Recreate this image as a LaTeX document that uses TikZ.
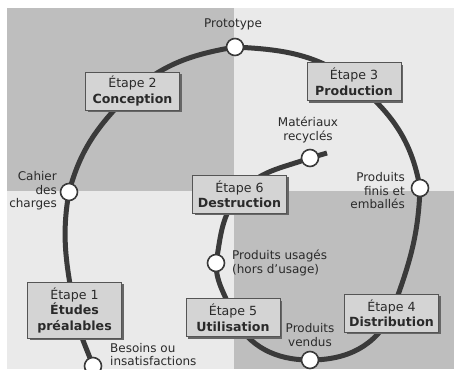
\documentclass[tikz,border=0pt]{standalone}
\usepackage{fontspec}
\setmainfont{DejaVu Sans}
\usetikzlibrary{shadows}
\pgfdeclarelayer{bg}\pgfdeclarelayer{mid}\pgfsetlayers{bg,mid,main}
\definecolor{dk}{HTML}{BEBEBE}
\definecolor{lt}{HTML}{EAEAEA}
\definecolor{boxfill}{HTML}{D4D4D4}
\definecolor{boxline}{HTML}{555555}
\definecolor{linec}{HTML}{3A3A3A}
\definecolor{textc}{HTML}{2A2A2A}
\tikzset{
  stage/.style={draw=boxline, line width=0.8pt, fill=boxfill, minimum width=94pt, minimum height=38pt,
    inner sep=0pt, align=center, text=textc, font=\fontsize{12.6}{15.5}\selectfont,
    drop shadow={shadow xshift=2pt, shadow yshift=-2pt, fill=black!60, opacity=1}},
  ptc/.style={circle, draw=linec, line width=1.6pt, fill=white, minimum size=17pt, inner sep=0pt},
  lbl/.style={font=\fontsize{12}{13.5}\selectfont, text=textc, inner sep=0pt},
  loopline/.style={draw=linec, line width=5pt}
}
\begin{document}
\begin{tikzpicture}[x=1pt,y=1pt]
\useasboundingbox (0,0) rectangle (454,-369);
\clip (0,0) rectangle (454,-369);
\begin{pgfonlayer}{bg}
\fill[white] (0,0) rectangle (454,-369);
\fill[lt] (7,-8) rectangle (454,-369);
\fill[dk] (7,-8) rectangle (234,-190.5);
\fill[dk] (234,-190.5) rectangle (454,-369);
\end{pgfonlayer}

% stages
\node[stage, minimum height=56pt] (e1) at (74.5,-310) {Étape 1\\\textbf{Études}\\\textbf{préalables}};
\node[stage] (e2) at (132.5,-91) {Étape 2\\\textbf{Conception}};
\node[stage] (e3) at (354,-81.5) {Étape 3\\\textbf{Production}};
\node[stage] (e4) at (391.5,-313) {Étape 4\\\textbf{Distribution}};
\node[stage] (e5) at (233,-317.5) {Étape 5\\\textbf{Utilisation}};
\node[stage] (e6) at (239.5,-194) {Étape 6\\\textbf{Destruction}};

% points
\node[ptc] (b) at (93,-366) {};
\node[ptc] (c) at (69,-192) {};
\node[ptc] (p) at (235,-47) {};
\node[ptc] (pf) at (420,-188) {};
\node[ptc] (pv) at (310,-360) {};
\node[ptc] (pu) at (216,-263) {};
\node[ptc] (mr) at (310,-158) {};
\coordinate (stub) at (327,-153);

% labels
\node[lbl] (lp) at (233,-24) {Prototype};
\node[lbl, align=right, anchor=east] (lc) at (57,-191) {Cahier\\des\\charges};
\node[lbl, align=left, anchor=west] (lb) at (110,-354.5) {Besoins ou\\insatisfactions};
\node[lbl, align=center] (lm) at (308,-130) {Matériaux\\recyclés};
\node[lbl, align=right, anchor=east] (lf) at (405,-191) {Produits\\finis et\\emballés};
\node[lbl, align=left, anchor=west] (lu) at (232,-263) {Produits usagés\\(hors d'usage)};
\node[lbl, align=center] (lv) at (310,-335) {Produits\\vendus};

\begin{pgfonlayer}{mid}
\draw[loopline] (b.center) to[out=110,in=-80] (e1.center)
  to[out=100,in=-100] (c.center)
  to[out=75,in=225] (e2.center)
  to[out=40,in=190] (p.center)
  to[out=-3,in=145] (e3.center)
  to[out=-40,in=100] (pf.center)
  to[out=-92,in=70] (e4.center)
  to[out=-115,in=0] (pv.center)
  to[out=180,in=-60] (e5.center)
  to[out=105,in=-90] (pu.center)
  to[out=80,in=230] (e6.center)
  to[out=50,in=200] (mr.center)
  -- (stub);
\end{pgfonlayer}
\end{tikzpicture}
\end{document}
